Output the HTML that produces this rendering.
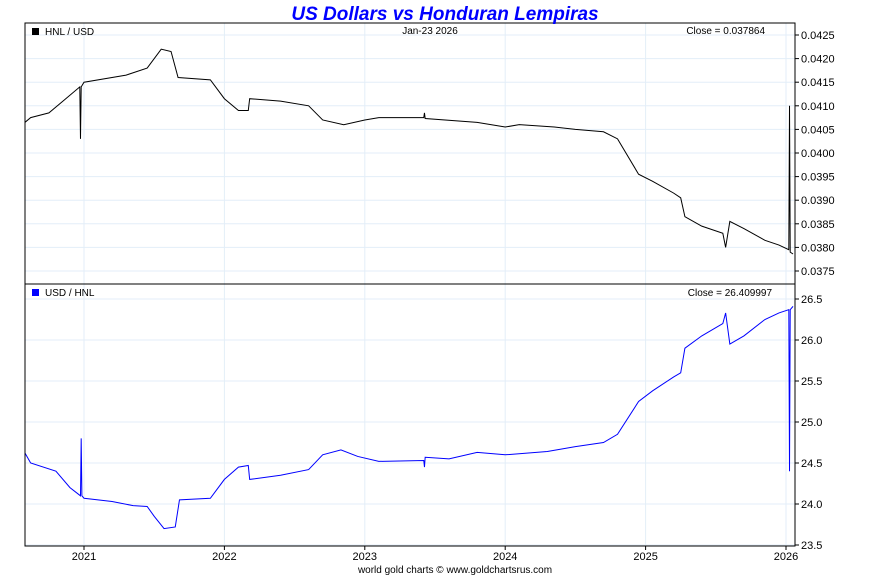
<!DOCTYPE html>
<html><head><meta charset="utf-8"><style>
body{margin:0;background:#fff;width:890px;height:575px;overflow:hidden}
svg{display:block;font-family:"Liberation Sans",sans-serif}
</style></head><body>
<svg id="c" width="890" height="575"></svg>
<script>
const topDates=[2020.58,2020.62,2020.75,2020.85,2020.97,2020.975,2020.98,2021.0,2021.3,2021.45,2021.55,2021.62,2021.67,2021.9,2022.0,2022.1,2022.17,2022.18,2022.4,2022.6,2022.7,2022.85,2023.0,2023.1,2023.42,2023.425,2023.43,2023.8,2024.0,2024.1,2024.35,2024.5,2024.7,2024.8,2024.95,2025.05,2025.2,2025.25,2025.28,2025.4,2025.55,2025.57,2025.6,2025.7,2025.85,2025.95,2026.02,2026.025,2026.03,2026.05];
const topValues=[0.04065,0.04075,0.04085,0.04110,0.04140,0.04030,0.04140,0.04150,0.04165,0.04180,0.04220,0.04215,0.04160,0.04155,0.04115,0.04090,0.04090,0.04115,0.04110,0.04100,0.04070,0.04060,0.04070,0.04075,0.04075,0.04085,0.04073,0.04065,0.04055,0.04060,0.04055,0.04050,0.04045,0.04030,0.03955,0.03940,0.03915,0.03905,0.03865,0.03845,0.03830,0.03800,0.03855,0.03840,0.03815,0.03805,0.03795,0.04100,0.03790,0.03786];
const botDates=[2020.58,2020.62,2020.8,2020.9,2020.975,2020.98,2020.985,2021.0,2021.2,2021.35,2021.45,2021.5,2021.57,2021.65,2021.68,2021.9,2022.0,2022.1,2022.17,2022.18,2022.4,2022.6,2022.7,2022.83,2022.95,2023.1,2023.42,2023.425,2023.43,2023.6,2023.8,2024.0,2024.3,2024.5,2024.7,2024.8,2024.95,2025.05,2025.2,2025.25,2025.28,2025.4,2025.55,2025.57,2025.6,2025.7,2025.85,2025.95,2026.02,2026.025,2026.03,2026.05];
const botValues=[24.62,24.5,24.4,24.2,24.1,24.8,24.1,24.07,24.03,23.98,23.97,23.85,23.7,23.72,24.05,24.07,24.3,24.45,24.47,24.3,24.35,24.42,24.6,24.66,24.58,24.52,24.53,24.45,24.57,24.55,24.63,24.6,24.64,24.7,24.75,24.85,25.25,25.38,25.55,25.6,25.9,26.05,26.2,26.33,25.95,26.05,26.25,26.33,26.37,24.4,26.37,26.41];
const years=[2021,2022,2023,2024,2025,2026];
const topTicks=[0.0425,0.0420,0.0415,0.0410,0.0405,0.0400,0.0395,0.0390,0.0385,0.0380,0.0375];
const botTicks=[26.5,26.0,25.5,25.0,24.5,24.0,23.5];
const NS="http://www.w3.org/2000/svg",svg=document.getElementById('c');
function el(t,a,txt){const e=document.createElementNS(NS,t);for(const k in a)e.setAttribute(k,a[k]);if(txt!==undefined)e.textContent=txt;svg.appendChild(e);return e;}
const X=d=>84+(d-2021)*140.4;
const YT=v=>35+(0.0425-v)/0.0005*23.6;
const YB=v=>299+(26.5-v)*82;
const L=25,R=795;
// grid
for(const y of years){const g=el('line',{x1:X(y),x2:X(y),y1:23,y2:546,stroke:'#e3eef8'});}
for(const v of topTicks){const y=YT(v);const g=el('line',{x1:L,x2:R,y1:y,y2:y,stroke:'#e3eef8'});
const t=el('text',{x:801,y:y+4,'font-size':11},v.toFixed(4));
el('line',{x1:R,x2:R+4,y1:y,y2:y,stroke:'#000'});}
for(const v of botTicks){const y=YB(v);const g=el('line',{x1:L,x2:R,y1:y,y2:y,stroke:'#e3eef8'});
const t=el('text',{x:801,y:y+4,'font-size':11},v.toFixed(1));
el('line',{x1:R,x2:R+4,y1:y,y2:y,stroke:'#000'});}
for(const y of years){const t=el('text',{x:X(y),y:560,'font-size':11,'text-anchor':'middle'},String(y));
el('line',{x1:X(y),x2:X(y),y1:546,y2:550,stroke:'#000'});}
// series
const p1=el('polyline',{points:topDates.map((d,i)=>X(d)+','+YT(topValues[i])).join(' '),fill:'none',stroke:'#000','stroke-width':1});

const p2=el('polyline',{points:botDates.map((d,i)=>X(d)+','+YB(botValues[i])).join(' '),fill:'none',stroke:'#0000ff','stroke-width':1});

// frames
const f1=el('rect',{x:L,y:23,width:R-L,height:261,fill:'none',stroke:'#000'});
const f2=el('rect',{x:L,y:284,width:R-L,height:262,fill:'none',stroke:'#000'});
// labels
const ti=el('text',{x:445,y:20,'font-size':19,'font-weight':'bold','font-style':'italic',fill:'#0000ff','text-anchor':'middle'},'US Dollars vs Honduran Lempiras');
el('rect',{x:32,y:28,width:7,height:7,fill:'#000'});
const l1=el('text',{x:45,y:35,'font-size':10},'HNL / USD');
const dt=el('text',{x:430,y:34,'font-size':10,'text-anchor':'middle'},'Jan-23  2026');
const c1=el('text',{x:765,y:34,'font-size':10,'text-anchor':'end'},'Close = 0.037864');
el('rect',{x:32,y:289,width:7,height:7,fill:'#0000ff'});
const l2=el('text',{x:45,y:296,'font-size':10},'USD / HNL');
const c2=el('text',{x:772,y:296,'font-size':10,'text-anchor':'end'},'Close = 26.409997');
const ft=el('text',{x:455,y:573,'font-size':10,'text-anchor':'middle'},'world gold charts © www.goldchartsrus.com');
</script>
</body></html>
